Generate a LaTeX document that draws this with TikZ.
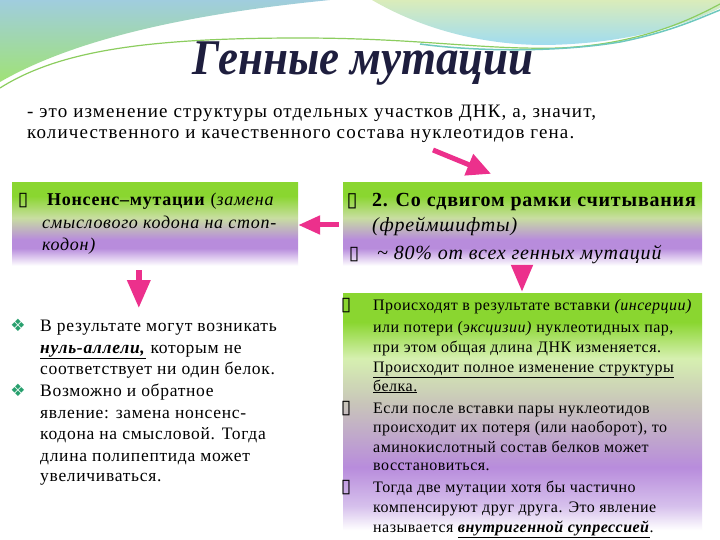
\documentclass[tikz,border=0pt]{standalone}
\usepackage{fontspec}
\usepackage{graphicx}
\setmainfont{Liberation Serif}
\newfontfamily\symfont{DejaVu Sans}
\newfontfamily\bodyfont{Liberation Serif}[LetterSpace=3]
\newfontfamily\widefont{Liberation Serif}[LetterSpace=4]
\newfontfamily\subfont{Liberation Serif}[LetterSpace=6]
\usetikzlibrary{arrows.meta,calc}
\definecolor{pinkA}{RGB}{236,48,140}
\definecolor{titlec}{RGB}{30,30,62}
\definecolor{grnA}{RGB}{138,214,48}
\definecolor{grnB}{RGB}{200,222,160}
\definecolor{grayA}{RGB}{200,196,186}
\definecolor{purA}{RGB}{184,140,220}
\definecolor{purB}{RGB}{214,192,236}
\definecolor{paleG}{RGB}{214,240,176}
\definecolor{diamc}{RGB}{40,160,110}
\definecolor{skyA}{RGB}{160,205,222}
\definecolor{leafA}{RGB}{160,226,118}
\definecolor{skyB}{RGB}{218,236,186}
\definecolor{skyC}{RGB}{160,220,240}
\definecolor{lineA}{RGB}{140,205,95}
\definecolor{lineB}{RGB}{110,200,190}
\pgfdeclareverticalshading{gradtop}{100bp}{color(0bp)=(white); color(27.5bp)=(white); color(37.5bp)=(purA); color(42.5bp)=(purA); color(55bp)=(grnB); color(67.5bp)=(grnA); color(100bp)=(grnA)}
\pgfdeclareverticalshading{gradbot}{100bp}{color(0bp)=(white); color(26bp)=(white); color(31bp)=(purB); color(39bp)=(purA); color(52bp)=(grayA); color(61.5bp)=(paleG); color(69bp)=(grnA); color(100bp)=(grnA)}
\begin{document}
\begin{tikzpicture}[x=1pt,y=-1pt,
  box/.style={draw=none,minimum width=#1,inner sep=0pt},
  parrow/.style={draw=pinkA,line width=5pt,-{Triangle[length=24pt,width=22pt]}},
  boxtxt/.style={anchor=base west,inner sep=0pt,font=\widefont\fontsize{18}{20}\selectfont},
  rtxt/.style={anchor=base west,inner sep=0pt,font=\widefont\fontsize{20}{22}\selectfont},
  btxt/.style={anchor=base west,inner sep=0pt,font=\bodyfont\fontsize{16}{19}\selectfont},
  ltxt/.style={anchor=base west,inner sep=0pt,font=\widefont\fontsize{17.5}{20}\selectfont},
  bul/.style={anchor=base,inner sep=0pt,font=\symfont\fontsize{19}{19}\selectfont},
  dia/.style={anchor=base,inner sep=0pt,text=diamc,font=\symfont\fontsize{17}{17}\selectfont}]
\useasboundingbox (0,0) rectangle (720,540);
\fill[white] (0,0) rectangle (720,540);
% decorative top
\shade[top color=skyA,bottom color=leafA] (0,0) -- (330,0) .. controls (230,10) and (90,30) .. (0,82) -- cycle;
\shade[top color=skyB,bottom color=skyC] (372,0) -- (720,0) -- (720,8) .. controls (680,28) and (620,44) .. (545,45) .. controls (480,45) and (420,28) .. (372,0) -- cycle;
\draw[lineA,line width=1.2pt] (0,88) .. controls (60,50) and (150,38) .. (300,38) .. controls (420,38) and (480,50) .. (560,48) .. controls (640,44) and (690,20) .. (720,4);
\draw[lineB,line width=1.5pt] (420,44) .. controls (480,52) and (560,52) .. (620,42) .. controls (670,32) and (700,18) .. (720,10);
% title
\node[font=\fontsize{50}{56}\selectfont\bfseries\itshape,text=titlec,inner sep=0pt] (title) at (363,64) {\scalebox{0.9}[1]{Генные мутации}};
\node[anchor=base west,inner sep=0pt,font=\subfont\fontsize{19}{20}\selectfont] (sub1) at (27,118) {- это изменение структуры отдельных участков ДНК, а, значит,};
\node[anchor=base west,inner sep=0pt,font=\subfont\fontsize{19}{20}\selectfont] (sub2) at (27,139) {количественного и качественного состава нуклеотидов гена.};
% boxes
\node[box=286pt,minimum height=87pt,shading=gradtop] (lbox) at (155,226.5) {};
\node[box=359pt,minimum height=87pt,shading=gradtop] (rbox) at (522.5,226.5) {};
\node[box=359pt,minimum height=242pt,shading=gradbot] (bbox) at (522.5,414) {};
% left box text
\node[bul] (lb0) at (23,206) {▯};
\node[boxtxt] (lb1) at (47,206) {\textbf{Нонсенс–мутации} (\textit{замена}};
\node[boxtxt] (lb2) at (42,229) {\textit{смыслового кодона на стоп-}};
\node[boxtxt] (lb3) at (42,250) {\textit{кодон)}};
% right box text
\node[bul,font=\symfont\bfseries\fontsize{20}{20}\selectfont] (rb0) at (352,207) {▯};
\node[rtxt] (rb1) at (372,207) {\textbf{2. Со сдвигом рамки считывания}};
\node[rtxt] (rb2) at (372,231) {\textit{(фреймшифты)}};
\node[bul] (rb3b) at (354,259) {▯};
\node[rtxt] (rb3) at (377,259) {\textit{\textasciitilde{} 80\% от всех генных мутаций}};
% bottom right text
\node[bul] (bb0a) at (346,310) {▯};
\node[btxt] (bb1) at (373,310) {Происходят в результате вставки \textit{(инсерции)}};
\node[btxt] (bb2) at (373,332) {или потери (\textit{эксцизии)} нуклеотидных пар,};
\node[btxt] (bb3) at (373,352) {при этом общая длина ДНК изменяется.};
\node[btxt] (bb4) at (373,372) {\underline{Происходит полное изменение структуры}};
\node[btxt] (bb5) at (373,391) {\underline{белка.}};
\node[bul] (bb0b) at (346,413) {▯};
\node[btxt] (bb6) at (373,413) {Если после вставки пары нуклеотидов};
\node[btxt] (bb7) at (373,432) {происходит их потеря (или наоборот), то};
\node[btxt] (bb8) at (373,452) {аминокислотный состав белков может};
\node[btxt] (bb9) at (373,470) {восстановиться.};
\node[bul] (bb0c) at (346,492) {▯};
\node[btxt] (bb10) at (373,492) {Тогда две мутации хотя бы частично};
\node[btxt] (bb11) at (373,512) {компенсируют друг друга. Это явление};
\node[btxt] (bb12) at (373,532) {называется \underline{\textbf{\textit{внутригенной супрессией}}}.};
% bottom left text
\node[dia] (ld1) at (18,331) {❖};
\node[ltxt] (lt1) at (40,331) {В результате могут возникать};
\node[ltxt] (lt2) at (40,353) {\underline{\textbf{\textit{нуль-аллели,}}} которым не};
\node[ltxt] (lt3) at (40,374) {соответствует ни один белок.};
\node[dia] (ld2) at (18,396) {❖};
\node[ltxt] (lt4) at (40,396) {Возможно и обратное};
\node[ltxt] (lt5) at (40,418) {явление: замена нонсенс-};
\node[ltxt] (lt6) at (40,439) {кодона на смысловой. Тогда};
\node[ltxt] (lt7) at (40,461) {длина полипептида может};
\node[ltxt] (lt8) at (40,481) {увеличиваться.};
% arrows
\coordinate (dtail) at (433,150);
\draw[parrow] (dtail) -- ($(rbox.north)+(-31.5,-9)$);
\draw[parrow,-{Triangle[length=22pt,width=18pt]}] ($(rbox.west)+(-4,-1.5)$) -- ($(lbox.east)+(0,-1.5)$);
\draw[parrow,line width=6pt,-{Triangle[length=28pt,width=22pt]}] ($(lbox.south west)+(127,0)$) -- ($(lbox.south west)+(127,38)$);
\draw[parrow,-{Triangle[length=27pt,width=21pt]}] ($(bbox.north)+(-0.5,-28)$) -- ($(bbox.north)+(-0.5,-1)$);
\end{tikzpicture}
\end{document}
